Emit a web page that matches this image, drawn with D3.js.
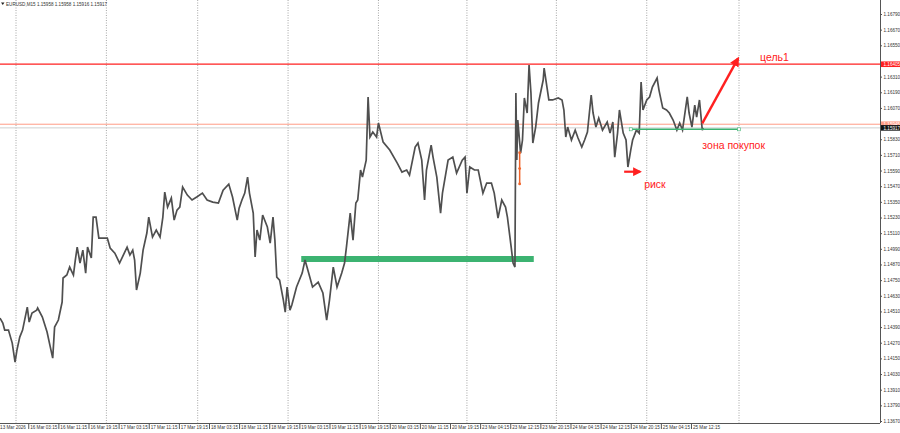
<!DOCTYPE html>
<html>
<head>
<meta charset="utf-8">
<script src="https://cdn.jsdelivr.net/npm/d3@7"></script>
<style>
    body { margin: 0; background: #fff; }
    svg { display: block; font-family: "Liberation Sans", Arial, sans-serif; }
</style>
</head>
<body>
<div id="chart"></div>
<script>
// EURUSD M15, bars counted from 16 Mar 00:00
const priceBars = [-17,-14,-12,-8,-4,-1,1,4,7,12,14,17,22,23,28,33,36,39,41,45,49,50,54,57,61,63,65,68,71,74,76,80,82,85,88,92,97,100,105,110,114,118,121,124,126,128,132,135,139,141,145,149,153,156,158,161,165,168,171,174,177,182,187,192,198,203,209,215,220,226,230,235,237,240,243,246,248,252,254,256,259,262,267,270,273,275,277,280,284,286,288,291,
    293,298,304,307,310,315,321,326,330,333,337,341,346,349,351,355,358,361,363,366,368,372,374,376,379,383,385,390,397,405,410,415,418,424,427,431,434,436,441,443,447,451,453,459,464,468,474,477,479,482,487,491,496,500,505,508,512,516,520,522,526,528,530,531,532,533,536,538,540,543,545,547,549,552,555,560,561,564,566,570,576,580,582,584,586,590,594,597,601,604,607,611,613,616,619,623,628,631,634,636,639,641,645,648,650,653,655,659,662,664,666,670,673,676,681,683,687,691,694,698,702,705,708,713,715,718,721,723,726,729,730];
const priceValues = [1.14459,1.14421,1.14367,1.14367,1.14267,1.14122,1.14214,1.14313,1.14367,1.14543,1.14428,1.14497,1.14520,1.14536,1.14467,1.14352,1.14252,1.14152,1.14390,1.14444,1.14582,1.14766,1.14789,1.14850,1.14789,1.14904,1.15003,1.14881,1.14980,1.14804,1.15003,1.14919,1.15233,1.15233,1.15072,1.15072,1.15072,1.14996,1.14957,1.14881,1.14942,1.15003,1.14942,1.14980,1.14904,1.14674,1.14804,1.14980,1.15111,1.15233,1.15080,1.15134,1.15080,1.15233,1.15425,1.15310,1.15379,1.15210,1.15287,1.15310,1.15463,1.15402,1.15364,1.15387,1.15417,1.15364,1.15348,1.15341,1.15440,1.15486,1.15387,1.15210,1.15302,1.15364,1.15417,1.15540,1.15417,1.15264,1.14927,1.15134,1.15057,1.15249,1.15157,1.15034,1.15233,1.15057,1.14773,1.14750,1.14597,1.14505,1.14697,1.14520,
    1.14559,1.14697,1.14804,1.14904,1.14827,1.14697,1.14735,1.14651,1.14444,1.14597,1.14850,1.14697,1.14804,1.14881,1.15003,1.15264,1.15057,1.15341,1.15364,1.15594,1.15540,1.15670,1.16154,1.15847,1.15885,1.15847,1.15954,1.15808,1.15747,1.15647,1.15578,1.15594,1.15555,1.15770,1.15801,1.15670,1.15364,1.15594,1.15785,1.15693,1.15540,1.15264,1.15417,1.15670,1.15693,1.15571,1.15670,1.15693,1.15417,1.15617,1.15594,1.15594,1.15417,1.15494,1.15494,1.15417,1.15226,1.15364,1.15310,1.15233,1.15003,1.14881,1.14850,1.16184,1.15670,1.15977,1.15724,1.15824,1.16146,1.16031,1.16399,1.16184,1.15801,1.15923,1.16108,1.16284,1.16376,1.16230,1.16131,1.16131,1.16146,1.16131,1.16054,1.15847,1.15923,1.15824,1.15900,1.15839,1.15770,1.15824,1.15885,1.16169,1.16031,1.15923,1.15992,1.15900,1.15962,1.15877,1.15962,1.15693,1.15877,1.16054,1.15877,1.15824,1.15617,1.15747,1.15824,1.15900,1.15877,1.16268,1.16054,1.16131,1.16154,1.16230,1.16299,1.16207,1.16069,1.16054,1.16031,1.15977,1.15900,1.15954,1.15900,1.16154,1.16031,1.15923,1.16092,1.16000,1.16131,1.15900,1.15917];

const timeTickBars = [-19,13,45,77,109,141,173,205,237,269,301,333,365,397,429,461,493,525,557,589,621,653,685,717];
const timeTickLabels = ["13 Mar 2026","16 Mar 03:15","16 Mar 11:15","16 Mar 19:15","17 Mar 03:15","17 Mar 11:15","17 Mar 19:15",
    "18 Mar 03:15","18 Mar 11:15","18 Mar 19:15","19 Mar 03:15","19 Mar 11:15","19 Mar 19:15","20 Mar 03:15","20 Mar 11:15",
    "20 Mar 19:15","23 Mar 04:15","23 Mar 12:15","23 Mar 20:15","24 Mar 04:15","24 Mar 12:15","24 Mar 20:15","25 Mar 04:15","25 Mar 12:15"];
const dayGridBars = [0,96,193,289,385,479,574,670,768];
const priceTicks = [1.13670,1.13790,1.13910,1.14030,1.14150,1.14270,1.14390,1.14510,1.14630,1.14750,1.14870,1.14990,1.15110,
    1.15230,1.15350,1.15470,1.15590,1.15710,1.15830,1.16070,1.16190,1.16310,1.16550,1.16670,1.16790];

const headerText = "EURUSD,M15  1.15958 1.15958 1.15916 1.15917";
const targetLevel = 1.16405;   // red line
const entryLevel = 1.15945;    // salmon line
const bidLevel = 1.15917;

// drawn objects
const supportZone = { from: 303, to: 550, price: 1.14911 };
const buyZone = { from: 653, to: 768, price: 1.15906 };
const targetArrow = { from: [729, 1.15952], to: [767, 1.16450] };
const riskArrow = { from: [646, 1.15581], to: [663, 1.15581] };
const orangeTrend = { bar: 535, prices: [1.15727, 1.15605, 1.15487] };

const W = 900, H = 433;
const plotRight = 880, plotBottom = 423;

const svg = d3.select("#chart").append("svg")
    .attr("width", W)
    .attr("height", H);

const x = d3.scaleLinear().domain([0, 768]).range([16, 739]);
const y = d3.scaleLinear().domain([1.13670, 1.16790]).range([421, 14]);

const red = "#ff2020";

svg.append("defs").append("marker")
    .attr("id", "head")
    .attr("viewBox", "0 0 10 10")
    .attr("refX", 8).attr("refY", 5)
    .attr("markerWidth", 4).attr("markerHeight", 4)
    .attr("markerUnits", "strokeWidth")
    .attr("orient", "auto")
    .append("path")
    .attr("d", "M0,0L10,5L0,10z")
    .attr("fill", red);

// day grid
svg.append("g").selectAll("line")
    .data(dayGridBars)
    .enter().append("line")
    .attr("x1", d => x(d)).attr("x2", d => x(d))
    .attr("y1", 0).attr("y2", plotBottom)
    .attr("stroke", "#8f8f8f")
    .attr("stroke-width", 0.8)
    .attr("stroke-dasharray", "1,1.5");

// horizontal levels
svg.append("line")
    .attr("x1", 0).attr("x2", plotRight)
    .attr("y1", y(bidLevel)).attr("y2", y(bidLevel))
    .attr("stroke", "#cfcfcf").attr("stroke-width", 1);

svg.append("line")
    .attr("x1", 0).attr("x2", plotRight)
    .attr("y1", y(entryLevel)).attr("y2", y(entryLevel))
    .attr("stroke", "#ff9c86").attr("stroke-width", 1);

svg.append("line")
    .attr("x1", 0).attr("x2", plotRight)
    .attr("y1", y(targetLevel)).attr("y2", y(targetLevel))
    .attr("stroke", red).attr("stroke-width", 1.3);

// support zone
svg.append("line")
    .attr("x1", x(supportZone.from)).attr("x2", x(supportZone.to))
    .attr("y1", y(supportZone.price)).attr("y2", y(supportZone.price))
    .attr("stroke", "#3cb371").attr("stroke-width", 6);

// price
const line = d3.line()
    .x((d, i) => x(priceBars[i]))
    .y(d => y(d));

svg.append("path")
    .datum(priceValues)
    .attr("d", line)
    .attr("fill", "none")
    .attr("stroke", "#4f4f4f")
    .attr("stroke-width", 1.7)
    .attr("stroke-linejoin", "miter");

// small orange trendline
svg.append("line")
    .attr("x1", x(orangeTrend.bar)).attr("x2", x(orangeTrend.bar))
    .attr("y1", y(orangeTrend.prices[0])).attr("y2", y(orangeTrend.prices[2]))
    .attr("stroke", "#f0642a").attr("stroke-width", 1.5);
svg.append("g").selectAll("circle")
    .data(orangeTrend.prices)
    .enter().append("circle")
    .attr("cx", x(orangeTrend.bar))
    .attr("cy", d => y(d))
    .attr("r", 1.4)
    .attr("fill", "#f0642a");

// buy zone
svg.append("line")
    .attr("x1", x(buyZone.from)).attr("x2", x(buyZone.to))
    .attr("y1", y(buyZone.price)).attr("y2", y(buyZone.price))
    .attr("stroke", "#3cb371").attr("stroke-width", 1.5);
svg.append("g").selectAll("rect")
    .data([buyZone.from, buyZone.to])
    .enter().append("rect")
    .attr("x", d => x(d) - 1.5).attr("y", y(buyZone.price) - 1.5)
    .attr("width", 3).attr("height", 3)
    .attr("fill", "#fff").attr("stroke", "#3cb371").attr("stroke-width", 0.6);

// arrows
svg.append("line")
    .attr("x1", x(targetArrow.from[0])).attr("y1", y(targetArrow.from[1]))
    .attr("x2", x(targetArrow.to[0])).attr("y2", y(targetArrow.to[1]))
    .attr("stroke", red).attr("stroke-width", 2.4)
    .attr("marker-end", "url(#head)");

svg.append("line")
    .attr("x1", x(riskArrow.from[0])).attr("y1", y(riskArrow.from[1]))
    .attr("x2", x(riskArrow.to[0])).attr("y2", y(riskArrow.to[1]))
    .attr("stroke", red).attr("stroke-width", 2.2)
    .attr("marker-end", "url(#head)");

// labels
const notes = [
    { text: "цель1", x: x(768) + 21, y: y(targetLevel) - 3 },
    { text: "зона покупок", x: x(728) + 1, y: y(buyZone.price) + 20 },
    { text: "риск", x: x(663) + 4, y: y(riskArrow.from[1]) + 16 }
];
svg.append("g").selectAll("text")
    .data(notes)
    .enter().append("text")
    .attr("x", d => d.x).attr("y", d => d.y)
    .text(d => d.text)
    .style("font-size", "10.5px")
    .attr("fill", red);

// price axis
const yAxis = svg.append("g")
    .attr("transform", `translate(${plotRight},0)`)
    .call(d3.axisRight(y).tickValues(priceTicks).tickSize(2).tickFormat(d3.format(".5f")));
yAxis.select(".domain").attr("stroke", "#555").attr("d", `M0.5,0V${plotBottom}`);
yAxis.selectAll(".tick line").attr("stroke", "#555");
yAxis.selectAll(".tick text")
    .attr("x", 3.5)
    .style("font-size", "4.6px")
    .attr("fill", "#333");

// level labels on the axis
const levelLabels = [
    { price: targetLevel, bg: red, fg: "#fff" },
    { price: entryLevel, bg: "#ff9c86", fg: "#fff" },
    { price: bidLevel, bg: "#111", fg: "#fff" }
];
let levelG = svg.append("g").selectAll("g")
    .data(levelLabels)
    .enter().append("g")
    .attr("transform", d => `translate(${plotRight + 1},${y(d.price)})`);
levelG.append("rect")
    .attr("x", 0).attr("y", -2.8)
    .attr("width", W - plotRight).attr("height", 5.6)
    .attr("fill", d => d.bg);
levelG.append("text")
    .attr("x", 2.5).attr("y", 1.7)
    .text(d => d.price.toFixed(5))
    .style("font-size", "4.6px")
    .attr("fill", d => d.fg);

// time axis
const xAxis = svg.append("g")
    .attr("transform", `translate(0,${plotBottom})`)
    .call(d3.axisBottom(x).tickValues(timeTickBars).tickSize(6).tickFormat((d, i) => timeTickLabels[i]));
xAxis.select(".domain").attr("stroke", "#555").attr("d", `M0,0.5H${plotRight}`);
xAxis.selectAll(".tick line").attr("stroke", "#555");
xAxis.selectAll(".tick text")
    .attr("text-anchor", "start")
    .attr("x", 1.5).attr("y", 2.5)
    .style("font-size", "4.6px")
    .attr("fill", "#333");

// header
svg.append("path")
    .attr("d", "M1,2.5L4.5,2.5L2.75,5z")
    .attr("fill", "#222");
svg.append("text")
    .attr("x", 6).attr("y", 5.5)
    .text(headerText)
    .style("font-size", "4.6px")
    .attr("fill", "#333");
</script>
</body>
</html>
